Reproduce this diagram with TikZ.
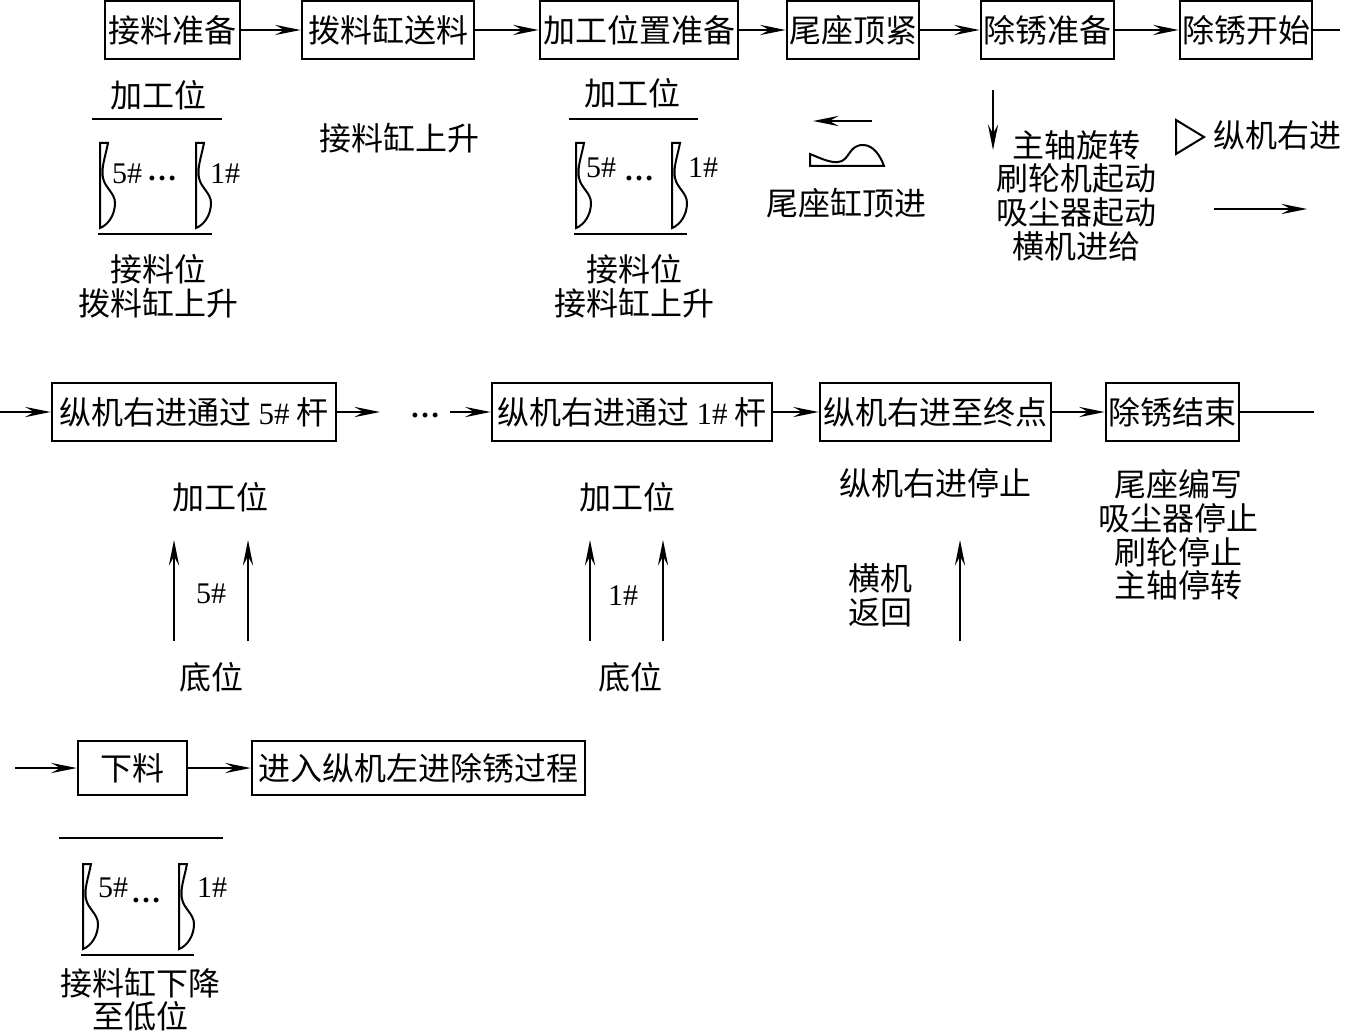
\documentclass[tikz,border=0pt]{standalone}
\usepackage{fontspec}
\setmainfont{Liberation Serif}
\newfontfamily\cjk{Noto Sans CJK SC}
\usetikzlibrary{arrows.meta}
\newcommand{\hao}[1]{{\rmfamily\fontsize{15.5}{16}\selectfont #1\#}}
\tikzset{
  stepbox/.style={rectangle, draw=black, line width=1.3pt, minimum height=29pt,
                  inner sep=0pt, font=\fontsize{16}{16.8}\selectfont\cjk},
  lbl/.style={inner sep=0pt, align=center, font=\fontsize{16}{16.8}\selectfont\cjk},
  numlbl/.style={inner sep=0pt, font=\rmfamily\fontsize{15}{16}\selectfont},
  dotlbl/.style={inner sep=0pt, font=\rmfamily\bfseries\fontsize{15}{16}\selectfont},
  flow/.style={-{Stealth[length=4.5mm, width=1.8mm, inset=1.6mm]}, line width=0.7pt},
  plainline/.style={line width=0.7pt},
  rule/.style={line width=1pt},
  blade/.pic={
    \draw[line width=1pt, line join=miter] (0,0) -- (0,85)
      .. controls (8,82) and (15,72) .. (15,60)
      .. controls (15,50) and (5,45) .. (3,35)
      .. controls (1,25) and (5,15) .. (8,0) -- cycle;
  },
}
\begin{document}
\begin{tikzpicture}[x=0.5pt, y=-0.5pt]
  \useasboundingbox (0,0) rectangle (1368,1032);
  % first row
  \node[stepbox, minimum width=67.5pt] (s1) at (172.5,30) {接料准备};
  \node[stepbox, minimum width=86pt] (s2) at (388,30) {拨料缸送料};
  \node[stepbox, minimum width=99pt] (s3) at (639,30) {加工位置准备};
  \node[stepbox, minimum width=66pt] (s4) at (853,30) {尾座顶紧};
  \node[stepbox, minimum width=66.5pt] (s5) at (1047.5,30) {除锈准备};
  \node[stepbox, minimum width=66pt] (s6) at (1246,30) {除锈开始};
  \coordinate (s6end) at (1340,30);
  \draw[flow] (s1) -- (s2);
  \draw[flow] (s2) -- (s3);
  \draw[flow] (s3) -- (s4);
  \draw[flow] (s4) -- (s5);
  \draw[flow] (s5) -- (s6);
  \draw[plainline] (s6) -- (s6end);

  % second row
  \coordinate (r2start) at (0,412);
  \node[stepbox, minimum width=142pt] (t1) at (194,412) {纵机右进通过 \hao{5} 杆};
  \node[dotlbl] (dots) at (425,415) {…};
  \coordinate (t1end) at (380,412);
  \coordinate (t2start) at (450,412);
  \node[stepbox, minimum width=140pt] (t2) at (632,412) {纵机右进通过 \hao{1} 杆};
  \node[stepbox, minimum width=115.5pt] (t3) at (935.5,412) {纵机右进至终点};
  \node[stepbox, minimum width=66.5pt] (t4) at (1172.5,412) {除锈结束};
  \coordinate (t4end) at (1314,412);
  \draw[flow] (r2start) -- (t1);
  \draw[flow] (t1) -- (t1end);
  \draw[flow] (t2start) -- (t2);
  \draw[flow] (t2) -- (t3);
  \draw[flow] (t3) -- (t4);
  \draw[plainline] (t4) -- (t4end);

  % third row
  \coordinate (r3start) at (15,768);
  \node[stepbox, minimum width=54.5pt, minimum height=27pt] (u1) at (132.5,768) {下料};
  \node[stepbox, minimum width=166.5pt, minimum height=27pt] (u2) at (418.5,768) {进入纵机左进除锈过程};
  \draw[flow] (r3start) -- (u1);
  \draw[flow] (u1) -- (u2);

  % under s1
  \node[lbl] (a1) at (158,95) {加工位};
  \draw[rule] (92,119) -- (222,119);
  \pic at (100,143) {blade};
  \pic at (196,143) {blade};
  \node[numlbl] (a2) at (127,174) {5\#};
  \node[dotlbl] (a3) at (162,178) {…};
  \node[numlbl] (a4) at (225,174) {1\#};
  \draw[rule] (98,234) -- (212,234);
  \node[lbl] (a5) at (158,286) {接料位\\拨料缸上升};

  % under s2
  \node[lbl] (b1) at (399,138) {接料缸上升};

  % under s3
  \node[lbl] (c1) at (632,93) {加工位};
  \draw[rule] (569,119) -- (698,119);
  \pic at (576,143) {blade};
  \pic at (672,143) {blade};
  \node[numlbl] (c2) at (601,168) {5\#};
  \node[dotlbl] (c3) at (639,178) {…};
  \node[numlbl] (c4) at (703,168) {1\#};
  \draw[rule] (574,234) -- (687,234);
  \node[lbl] (c5) at (634,286) {接料位\\接料缸上升};

  % under s4
  \coordinate (d1) at (872,121);
  \coordinate (d2) at (813,121);
  \draw[flow] (d1) -- (d2);
  \draw[line width=1pt] (810,166) -- (810,154)
    .. controls (820,158) and (830,163) .. (838,162)
    .. controls (850,161) and (848,145) .. (863,145)
    .. controls (873,145) and (880,155) .. (884,166) -- cycle;
  \node[lbl] (d3) at (846,203) {尾座缸顶进};

  % under s5
  \coordinate (e1) at (993,90);
  \coordinate (e2) at (993,150);
  \draw[flow] (e1) -- (e2);
  \node[lbl] (e3) at (1076,195.5) {主轴旋转\\刷轮机起动\\吸尘器起动\\横机进给};

  % under s6
  \draw[line width=1pt] (1176,120) -- (1204,137) -- (1176,154) -- cycle;
  \node[lbl] (f1) at (1277,135) {纵机右进};
  \coordinate (f2) at (1214,209);
  \coordinate (f3) at (1307,209);
  \draw[flow] (f2) -- (f3);

  % under t1
  \node[lbl] (g1) at (220,497) {加工位};
  \coordinate (g2) at (174,641);
  \coordinate (g3) at (174,540);
  \coordinate (g4) at (248,641);
  \coordinate (g5) at (248,540);
  \draw[flow] (g2) -- (g3);
  \draw[flow] (g4) -- (g5);
  \node[numlbl] (g6) at (211,594) {5\#};
  \node[lbl] (g7) at (211,677) {底位};

  % under t2
  \node[lbl] (h1) at (627,497) {加工位};
  \coordinate (h2) at (590,641);
  \coordinate (h3) at (590,540);
  \coordinate (h4) at (663,641);
  \coordinate (h5) at (663,540);
  \draw[flow] (h2) -- (h3);
  \draw[flow] (h4) -- (h5);
  \node[numlbl] (h6) at (623,596) {1\#};
  \node[lbl] (h7) at (630,677) {底位};

  % under t3
  \node[lbl] (i1) at (935,483) {纵机右进停止};
  \node[lbl] (i2) at (880,595.5) {横机\\返回};
  \coordinate (i3) at (960,641);
  \coordinate (i4) at (960,540);
  \draw[flow] (i3) -- (i4);

  % under t4
  \node[lbl] (j1) at (1178,535) {尾座编写\\吸尘器停止\\刷轮停止\\主轴停转};

  % under u1
  \draw[rule] (59,838) -- (223,838);
  \pic at (83,864) {blade};
  \pic at (179,864) {blade};
  \node[numlbl] (k1) at (113,888) {5\#};
  \node[dotlbl] (k2) at (146,900) {…};
  \node[numlbl] (k3) at (212,888) {1\#};
  \draw[rule] (81,955) -- (194,955);
  \node[lbl] (k4) at (140,999.5) {接料缸下降\\至低位};
\end{tikzpicture}
\end{document}
